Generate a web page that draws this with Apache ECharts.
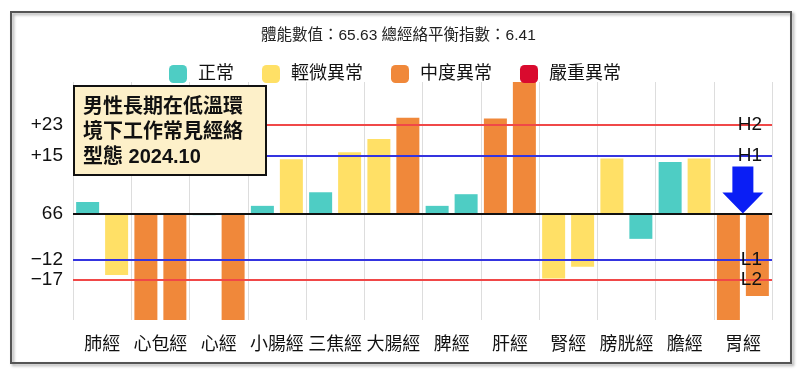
<!DOCTYPE html>
<html>
<head>
<meta charset="utf-8">
<script src="https://cdn.jsdelivr.net/npm/echarts@6/dist/echarts.min.js"></script>
<style>
html,body{margin:0;padding:0;background:#fff;}
#main{width:800px;height:372px;}
</style>
</head>
<body>
<div id="main"></div>
<script>
// ---- data ----
var categories = ['肺經','心包經','心經','小腸經','三焦經','大腸經','脾經','肝經','腎經','膀胱經','膽經','胃經'];
var leftValues  = [3.0, -35, -0.4, 2.0, 5.5, 19.2, 2.0, 24.5, -16.7, 14.2, 13.3, -35];
var rightValues = [-15.8, -35, -35, 14.0, 15.8, 24.7, 5.0, 34, -13.7, -6.5, 14.2, -21.2];
// 0 正常, 1 輕微異常, 2 中度異常, 3 嚴重異常
var leftLevels  = [0, 2, 0, 0, 0, 1, 0, 2, 1, 1, 0, 2];
var rightLevels = [1, 2, 2, 1, 1, 2, 0, 2, 1, 0, 1, 2];
var levelNames = ['正常','輕微異常','中度異常','嚴重異常'];
var thresholdValues = [23, 15, 0, -12, -17];
var thresholdLeftLabels = ['+23', '+15', '66', '\u221212', '\u221217'];
var thresholdRightLabels = ['H2', 'H1', '', 'L1', 'L2'];
var titleText = '體能數值：65.63 總經絡平衡指數：6.41';
var noteText = '男性長期在低溫環\n境下工作常見經絡\n型態 2024.10';
var arrowCategory = '胃經';

// ---- styles ----
var levelColors = ['#4ECDC4', '#FFE066', '#F0883A', '#D90A2E'];
var thresholdColors = ['#F04848', '#3434E0', '#111111', '#3434E0', '#F04848'];
var FONT = '"Liberation Sans", "Noto Sans CJK TC", sans-serif';

function barData(vals, lv) {
  return vals.map(function (v, i) {
    return { value: v, itemStyle: { color: levelColors[lv[i]] } };
  });
}

var lineData = thresholdValues.map(function (v, i) {
  return {
    yAxis: v,
    lineStyle: { color: thresholdColors[i], width: 2, type: 'solid' },
    label: { show: true, position: 'start', formatter: thresholdLeftLabels[i], distance: 10,
             fontSize: 19, color: '#111', fontFamily: FONT }
  };
});
var lineDataEnd = [];
thresholdValues.forEach(function (v, i) {
  if (thresholdRightLabels[i] === '') return;
  lineDataEnd.push({
    yAxis: v,
    lineStyle: { color: thresholdColors[i], width: 2, type: 'solid' },
    label: { show: true, position: 'insideEnd', formatter: thresholdRightLabels[i],
             distance: 10, fontSize: 19, color: '#111', fontFamily: FONT }
  });
});

var legendSeries = levelNames.map(function (n, i) {
  return { name: n, type: 'scatter', data: [], itemStyle: { color: levelColors[i], opacity: 1 } };
});

var chart = echarts.init(document.getElementById('main'), null, { renderer: 'canvas' });
chart.setOption({
  animation: false,
  textStyle: { fontFamily: FONT },
  title: [
    { text: titleText, left: 256, top: 23,
      textStyle: { fontSize: 15.5, fontWeight: 'normal', color: '#222', fontFamily: FONT } },
    { text: noteText, left: 74, top: 86,
      backgroundColor: '#FDF0C9', borderColor: '#111', borderWidth: 2,
      padding: [9, 23, 5, 9],
      textStyle: { fontSize: 20, fontWeight: 'bold', lineHeight: 25, color: '#111', fontFamily: FONT } }
  ],
  legend: {
    data: levelNames, left: 164, top: 60, icon: 'roundRect',
    itemWidth: 18, itemHeight: 18, itemGap: 28,
    textStyle: { fontSize: 18, color: '#111', padding: [0, 0, 0, 6], fontFamily: FONT }
  },
  grid: { left: 73, right: 28, top: 82, bottom: 52, containLabel: false },
  xAxis: {
    type: 'category', data: categories,
    axisLine: { show: false }, axisTick: { show: false },
    axisLabel: { interval: 0, fontSize: 18, color: '#111', margin: 16, fontFamily: FONT },
    splitLine: { show: true, interval: 0, lineStyle: { color: '#DDDDDD', width: 1 } }
  },
  yAxis: { type: 'value', min: -27.4, max: 33.9, show: false },
  graphic: [{
    type: 'rect', shape: { x: 11, y: 12, width: 780, height: 351 },
    style: { fill: 'none', stroke: '#555', lineWidth: 2,
             shadowBlur: 3, shadowOffsetX: 2, shadowOffsetY: 2, shadowColor: 'rgba(0,0,0,0.35)' },
    silent: true, z: 100
  }],
  series: [
    { name: 'left', type: 'bar', data: barData(leftValues, leftLevels), barWidth: 23, barGap: '26%',
      markLine: { silent: true, symbol: 'none', data: lineData } },
    { name: 'right', type: 'bar', data: barData(rightValues, rightLevels), barWidth: 23, barGap: '26%',
      markLine: { silent: true, symbol: 'none', data: lineDataEnd } },
    { name: 'arrow', type: 'scatter', data: [],
      markPoint: { silent: true, data: [{
        coord: [arrowCategory, 0],
        symbol: 'path://M10,0 L31,0 L31,26 L41,26 L20.5,47 L0,26 L10,26 Z',
        symbolSize: [41, 47], symbolOffset: [0, '-50%'],
        itemStyle: { color: '#0A1EF5' }, label: { show: false }
      }] } }
  ].concat(legendSeries)
});
</script>
</body>
</html>
